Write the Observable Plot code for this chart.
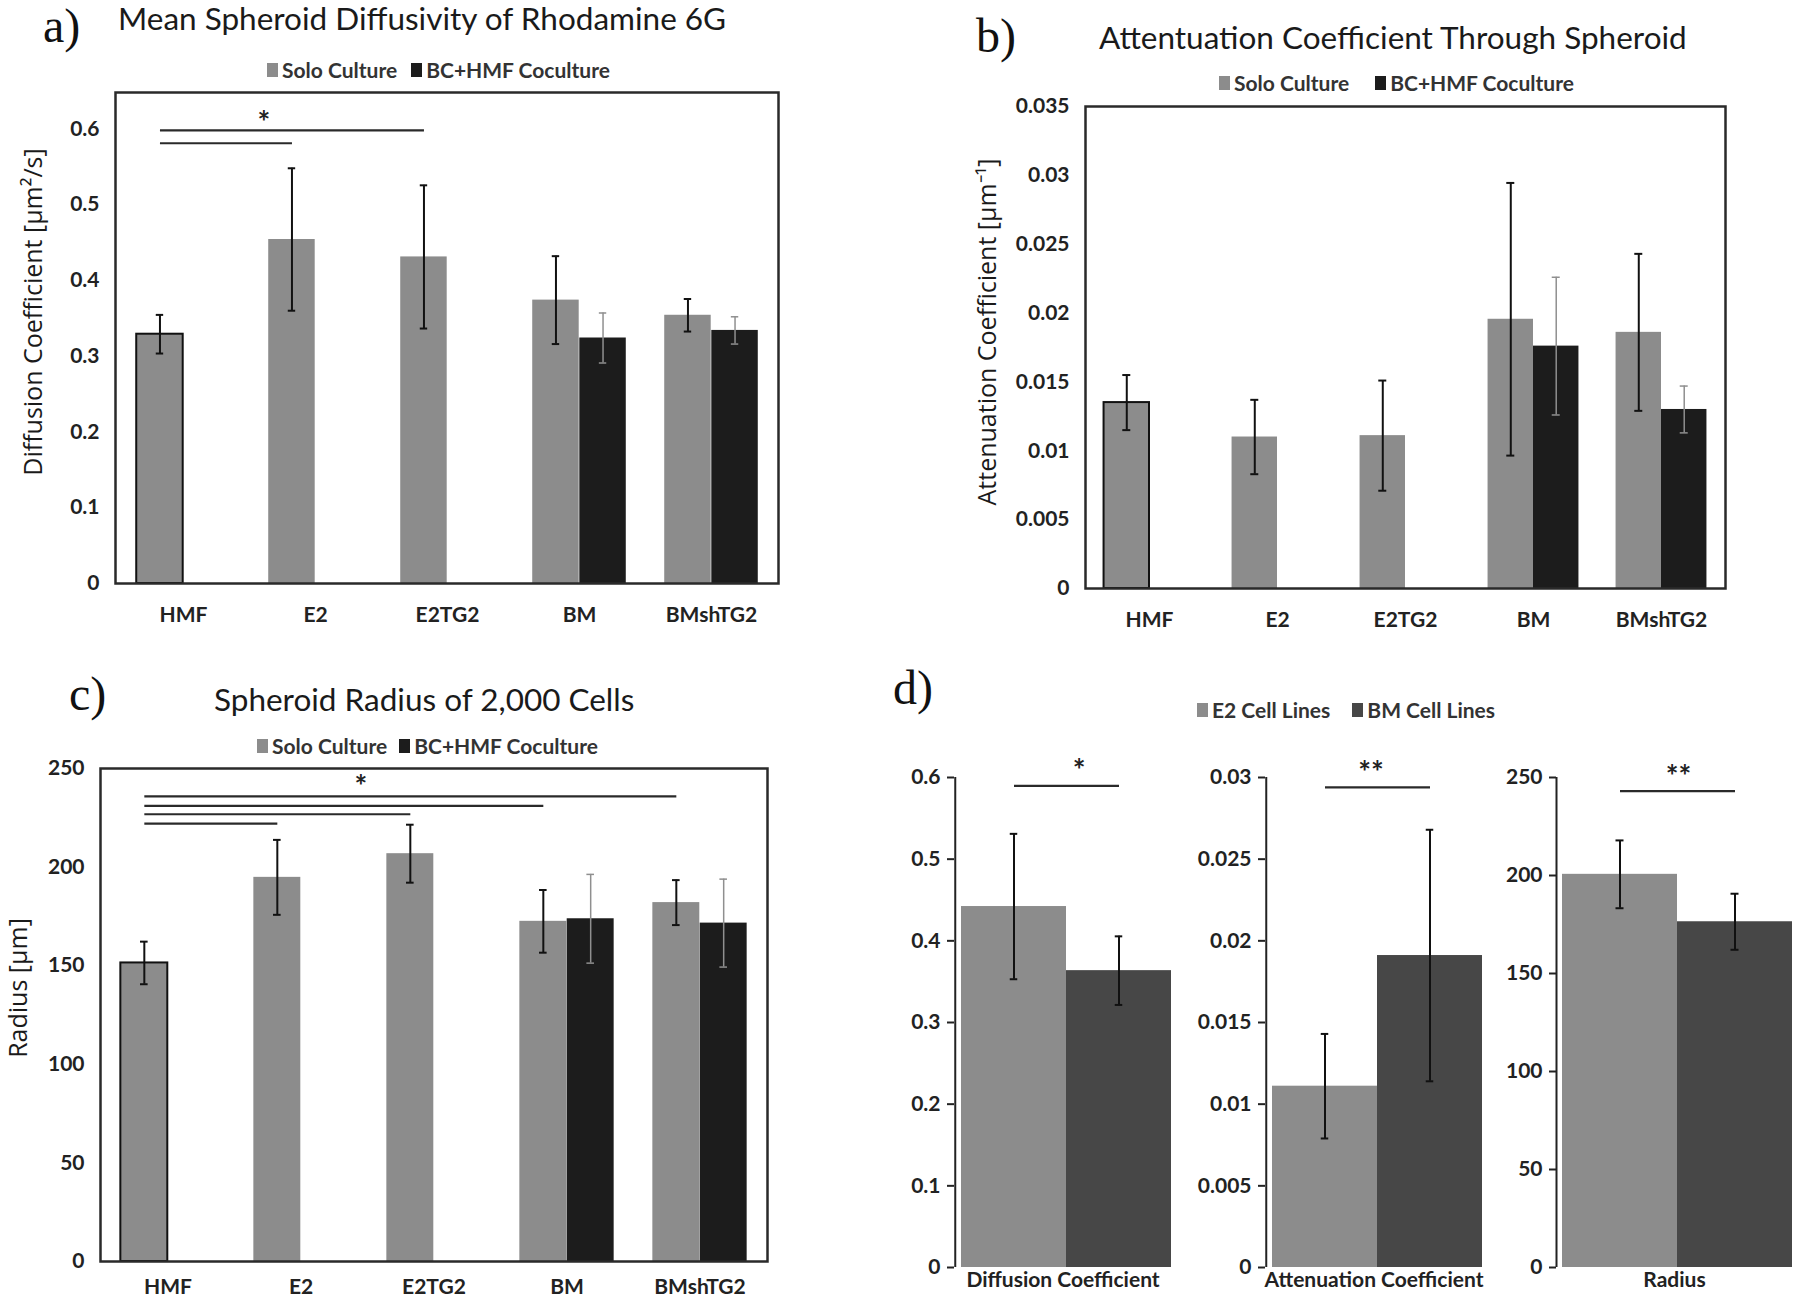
<!DOCTYPE html>
<html><head><meta charset="utf-8">
<script src="https://cdn.jsdelivr.net/npm/d3@7"></script>
<script src="https://cdn.jsdelivr.net/npm/@observablehq/plot@0.6"></script>
<style>
body{margin:0;background:#fff;}
#root{position:relative;width:1800px;height:1300px;overflow:hidden;background:#fff;font-family:Lato,sans-serif;color:#222;}
.abs{position:absolute;white-space:nowrap;}
.letter{font-family:"Liberation Serif","Times New Roman",serif;font-size:48px;line-height:1.1;color:#111;}
.title{font-family:Lato,sans-serif;font-size:31.5px;line-height:1;color:#1a1a1a;}
.legend{display:flex;align-items:center;font-family:Lato,sans-serif;font-weight:700;font-size:21px;color:#333;line-height:1;}
.sw{width:11px;height:14px;display:inline-block;margin-right:4px;}
.ylab{font-family:"Open Sans",sans-serif;font-size:25px;color:#1a1a1a;transform:translate(-50%,-50%) rotate(-90deg);line-height:1;}
</style></head><body><div id="root"></div>
<script>
// ---------------- data ----------------
const categories = ["HMF", "E2", "E2TG2", "BM", "BMshTG2"];
const seriesNames = ["Solo Culture", "BC+HMF Coculture"];

// a) diffusion coefficient
const diffSolo    = [0.329, 0.454, 0.431, 0.374, 0.354];
const diffSoloErr = [0.0255, 0.094, 0.0945, 0.058, 0.0215];
const diffCo      = [0, 0, 0, 0.324, 0.334];
const diffCoErr   = [0, 0, 0, 0.033, 0.018];
const diffTicks   = [0, 0.1, 0.2, 0.3, 0.4, 0.5, 0.6];
const diffSig     = [{from: "HMF", to: "E2", y: 0.581}, {from: "HMF", to: "E2TG2", y: 0.598}];
const diffStar    = {cat: "E2", y: 0.613, text: "*"};

// b) attenuation coefficient
const attSolo    = [0.0135, 0.0110, 0.0111, 0.01955, 0.0186];
const attSoloErr = [0.0020, 0.0027, 0.0040, 0.0099, 0.0057];
const attCo      = [0, 0, 0, 0.0176, 0.0130];
const attCoErr   = [0, 0, 0, 0.0050, 0.0017];
const attTicks   = [0, 0.005, 0.01, 0.015, 0.02, 0.025, 0.03, 0.035];

// c) radius
const radSolo    = [151.4, 194.8, 206.8, 172.5, 182.0];
const radSoloErr = [10.8, 19.0, 14.7, 15.9, 11.4];
const radCo      = [0, 0, 0, 173.8, 171.6];
const radCoErr   = [0, 0, 0, 22.5, 22.3];
const radTicks   = [0, 50, 100, 150, 200, 250];
const radSig     = [{from: "HMF", to: "E2", y: 222}, {from: "HMF", to: "E2TG2", y: 226.8},
                    {from: "HMF", to: "BM", y: 231}, {from: "HMF", to: "BMshTG2", y: 235.9}];
const radStar    = {cat: "E2", y: 242.6, text: "*"};

// d) pooled cell lines
const dSeries     = ["E2 Cell Lines", "BM Cell Lines"];
const dMeasures   = ["Diffusion Coefficient", "Attenuation Coefficient", "Radius"];
const dE2         = [0.442, 0.0111, 200.6];
const dE2Err      = [0.089, 0.0032, 17.3];
const dBM         = [0.3635, 0.0191, 176.4];
const dBMErr      = [0.042, 0.0077, 14.3];
const dTicks      = [[0, 0.1, 0.2, 0.3, 0.4, 0.5, 0.6],
                     [0, 0.005, 0.01, 0.015, 0.02, 0.025, 0.03],
                     [0, 50, 100, 150, 200, 250]];
const dSigY       = [0.5898, 0.0294, 243];
const dStarY      = [0.612, 0.0305, 252];
const dStarText   = ["*", "**", "**"];

// ---------------- styles ----------------
const SOLO = "#8c8c8c", CO = "#1c1c1c", BMC = "#474747";
const fmt = d => String(+(+d).toFixed(4));
const root = document.getElementById("root");

function place(node, left, top) {
  node.style.position = "absolute";
  node.style.left = left + "px";
  node.style.top = top + "px";
  root.appendChild(node);
}
function html(cls, text, left, top, extra) {
  const el = document.createElement("div");
  el.className = "abs " + cls;
  el.textContent = text;
  el.style.left = left + "px";
  el.style.top = top + "px";
  if (extra) Object.assign(el.style, extra);
  root.appendChild(el);
  return el;
}
function legend(items, left, top, gap) {
  const el = document.createElement("div");
  el.className = "abs legend";
  el.style.left = left + "px";
  el.style.top = top + "px";
  items.forEach(([name, color], i) => {
    const sw = document.createElement("span");
    sw.className = "sw"; sw.style.background = color;
    if (i > 0) sw.style.marginLeft = gap + "px";
    const t = document.createElement("span");
    t.textContent = name;
    el.appendChild(sw); el.appendChild(t);
  });
  root.appendChild(el);
}

function grouped(o) {
  const rows = categories.map((c, i) => ({cat: c, solo: o.solo[i], se: o.soloErr[i], co: o.co[i], ce: o.coErr[i]}));
  const bw = (o.width - o.mL - o.mR) / categories.length;
  const g = 0.145, f = 0.355;
  const soloIn = {insetLeft: g * bw, insetRight: (1 - g - f) * bw};
  const coIn = {insetLeft: (g + f) * bw, insetRight: (1 - g - 2 * f) * bw};
  const soloDx = (g + f / 2 - 0.5) * bw;
  const coDx = (g + 1.5 * f - 0.5) * bw;
  const cap = {insetLeft: bw / 2 - 4, insetRight: bw / 2 - 4};
  const coRows = rows.filter(d => d.co > 0);
  const marks = [
    Plot.barY(rows, {x: "cat", y: "solo", fill: SOLO, ...soloIn}),
    Plot.barY(rows.filter(d => d.cat === "HMF"), {x: "cat", y: "solo", fill: "none", stroke: "#111", strokeWidth: 2, ...soloIn}),
    Plot.barY(coRows, {x: "cat", y: "co", fill: CO, ...coIn}),
    Plot.ruleX(rows, {x: "cat", y1: d => d.solo - d.se, y2: d => d.solo + d.se, dx: soloDx, stroke: "#111", strokeWidth: 2}),
    Plot.tickY(rows, {x: "cat", y: d => d.solo + d.se, dx: soloDx, stroke: "#111", strokeWidth: 2, ...cap}),
    Plot.tickY(rows, {x: "cat", y: d => d.solo - d.se, dx: soloDx, stroke: "#111", strokeWidth: 2, ...cap}),
    Plot.ruleX(coRows, {x: "cat", y1: d => d.co - d.ce, y2: d => d.co + d.ce, dx: coDx, stroke: "#8f8f8f", strokeWidth: 1.5}),
    Plot.tickY(coRows, {x: "cat", y: d => d.co + d.ce, dx: coDx, stroke: "#8f8f8f", strokeWidth: 1.5, ...cap}),
    Plot.tickY(coRows, {x: "cat", y: d => d.co - d.ce, dx: coDx, stroke: "#8f8f8f", strokeWidth: 1.5, ...cap}),
    Plot.axisX({tickSize: 0, tickPadding: o.xPad, label: null}),
    Plot.axisY({ticks: o.ticks, tickSize: 0, tickPadding: 16, tickFormat: fmt, label: null}),
    Plot.frame({stroke: "#2a2a2a", strokeWidth: 2.5})
  ];
  if (o.sig) {
    marks.push(Plot.link(o.sig, {x1: "from", x2: "to", y1: "y", y2: "y", dx: soloDx, stroke: "#2a2a2a", strokeWidth: 2.2}));
    marks.push(Plot.text([o.star], {x: "cat", y: "y", text: "text", dx: o.starDx * bw, dy: 4, fontSize: 30, fontWeight: 700}));
  }
  const svg = Plot.plot({
    width: o.width, height: o.height,
    marginLeft: o.mL, marginRight: o.mR, marginTop: o.mT, marginBottom: o.mB,
    x: {domain: categories, padding: 0, label: null},
    y: {domain: [0, o.yMax], label: null},
    style: {fontFamily: "Lato, sans-serif", fontSize: "21px", fontWeight: 700, color: "#222", background: "transparent"},
    marks
  });
  place(svg, o.left, o.top);
}

function dPanel(k, left, width, mL, mR, starDx) {
  const top = 740, height = 560, mT = 37, mB = 33, inset = 6;
  const rows = [
    {s: dSeries[0], v: dE2[k], e: dE2Err[k]},
    {s: dSeries[1], v: dBM[k], e: dBMErr[k]}
  ];
  const bw = (width - mL - mR - inset) / 2;
  const yMax = dTicks[k][dTicks[k].length - 1];
  const cap = {insetLeft: bw / 2 - 4, insetRight: bw / 2 - 4};
  const svg = Plot.plot({
    width, height, marginLeft: mL, marginRight: mR, marginTop: mT, marginBottom: mB,
    x: {domain: dSeries, padding: 0, insetLeft: inset, axis: null},
    y: {domain: [0, yMax], label: null},
    color: {domain: dSeries, range: [SOLO, BMC]},
    style: {fontFamily: "Lato, sans-serif", fontSize: "21px", fontWeight: 700, color: "#222", background: "transparent"},
    marks: [
      Plot.barY(rows, {x: "s", y: "v", fill: "s"}),
      Plot.ruleX(rows, {x: "s", y1: d => d.v - d.e, y2: d => d.v + d.e, stroke: "#111", strokeWidth: 2}),
      Plot.tickY(rows, {x: "s", y: d => d.v + d.e, stroke: "#111", strokeWidth: 2, ...cap}),
      Plot.tickY(rows, {x: "s", y: d => d.v - d.e, stroke: "#111", strokeWidth: 2, ...cap}),
      Plot.ruleX([dSeries[0]], {x: d => d, y1: 0, y2: yMax, dx: -(bw / 2 + inset), stroke: "#222", strokeWidth: 2}),
      Plot.axisY({ticks: dTicks[k], tickSize: 7, tickPadding: 7, tickFormat: fmt, label: null, strokeWidth: 2}),
      Plot.link([{y: dSigY[k]}], {x1: () => dSeries[0], x2: () => dSeries[1], y1: "y", y2: "y", stroke: "#2a2a2a", strokeWidth: 2.2}),
      Plot.text([{y: dStarY[k], t: dStarText[k]}], {y: "y", text: "t", dx: starDx, dy: 4, fontSize: 30, fontWeight: 700}),
      Plot.text([dMeasures[k]], {text: d => d, frameAnchor: "bottom", dy: 19})
    ]
  });
  place(svg, left, top);
}

// ---------------- panel a ----------------
html("letter", "a)", 43, 0);
html("title", "Mean Spheroid Diffusivity of Rhodamine 6G", 118, 3);
legend([[seriesNames[0], SOLO], [seriesNames[1], CO]], 267, 59, 14);
html("ylab", "Diffusion Coefficient [μm²/s]", 32, 312);
grouped({solo: diffSolo, soloErr: diffSoloErr, co: diffCo, coErr: diffCoErr, yMax: 0.648, ticks: diffTicks,
  left: 0, top: 80, width: 800, height: 560, mL: 115, mR: 22, mT: 12, mB: 57, xPad: 24,
  sig: diffSig, star: diffStar, starDx: -0.39});

// ---------------- panel b ----------------
html("letter", "b)", 976, 10);
html("title", "Attentuation Coefficient Through Spheroid", 1099, 22);
legend([[seriesNames[0], SOLO], [seriesNames[1], CO]], 1219, 72, 26);
html("ylab", "Attenuation Coefficient [μm⁻¹]", 986, 332);
grouped({solo: attSolo, soloErr: attSoloErr, co: attCo, coErr: attCoErr, yMax: 0.035, ticks: attTicks,
  left: 900, top: 80, width: 850, height: 575, mL: 185, mR: 25, mT: 26, mB: 67, xPad: 24});

// ---------------- panel c ----------------
html("letter", "c)", 69, 668);
html("title", "Spheroid Radius of 2,000 Cells", 214, 684);
legend([[seriesNames[0], SOLO], [seriesNames[1], CO]], 257, 735, 12);
html("ylab", "Radius [μm]", 17, 988);
grouped({solo: radSolo, soloErr: radSoloErr, co: radCo, coErr: radCoErr, yMax: 250, ticks: radTicks,
  left: 0, top: 745, width: 800, height: 555, mL: 100, mR: 33, mT: 23, mB: 39, xPad: 18,
  sig: radSig, star: radStar, starDx: 0.448});

// ---------------- panel d ----------------
html("letter", "d)", 893, 662);
legend([[dSeries[0], SOLO], [dSeries[1], BMC]], 1197, 699, 22);
dPanel(0, 890, 290, 64, 9, 16);
dPanel(1, 1190, 300, 75, 8, -3);
dPanel(2, 1490, 310, 66, 8, 4);
</script></body></html>
